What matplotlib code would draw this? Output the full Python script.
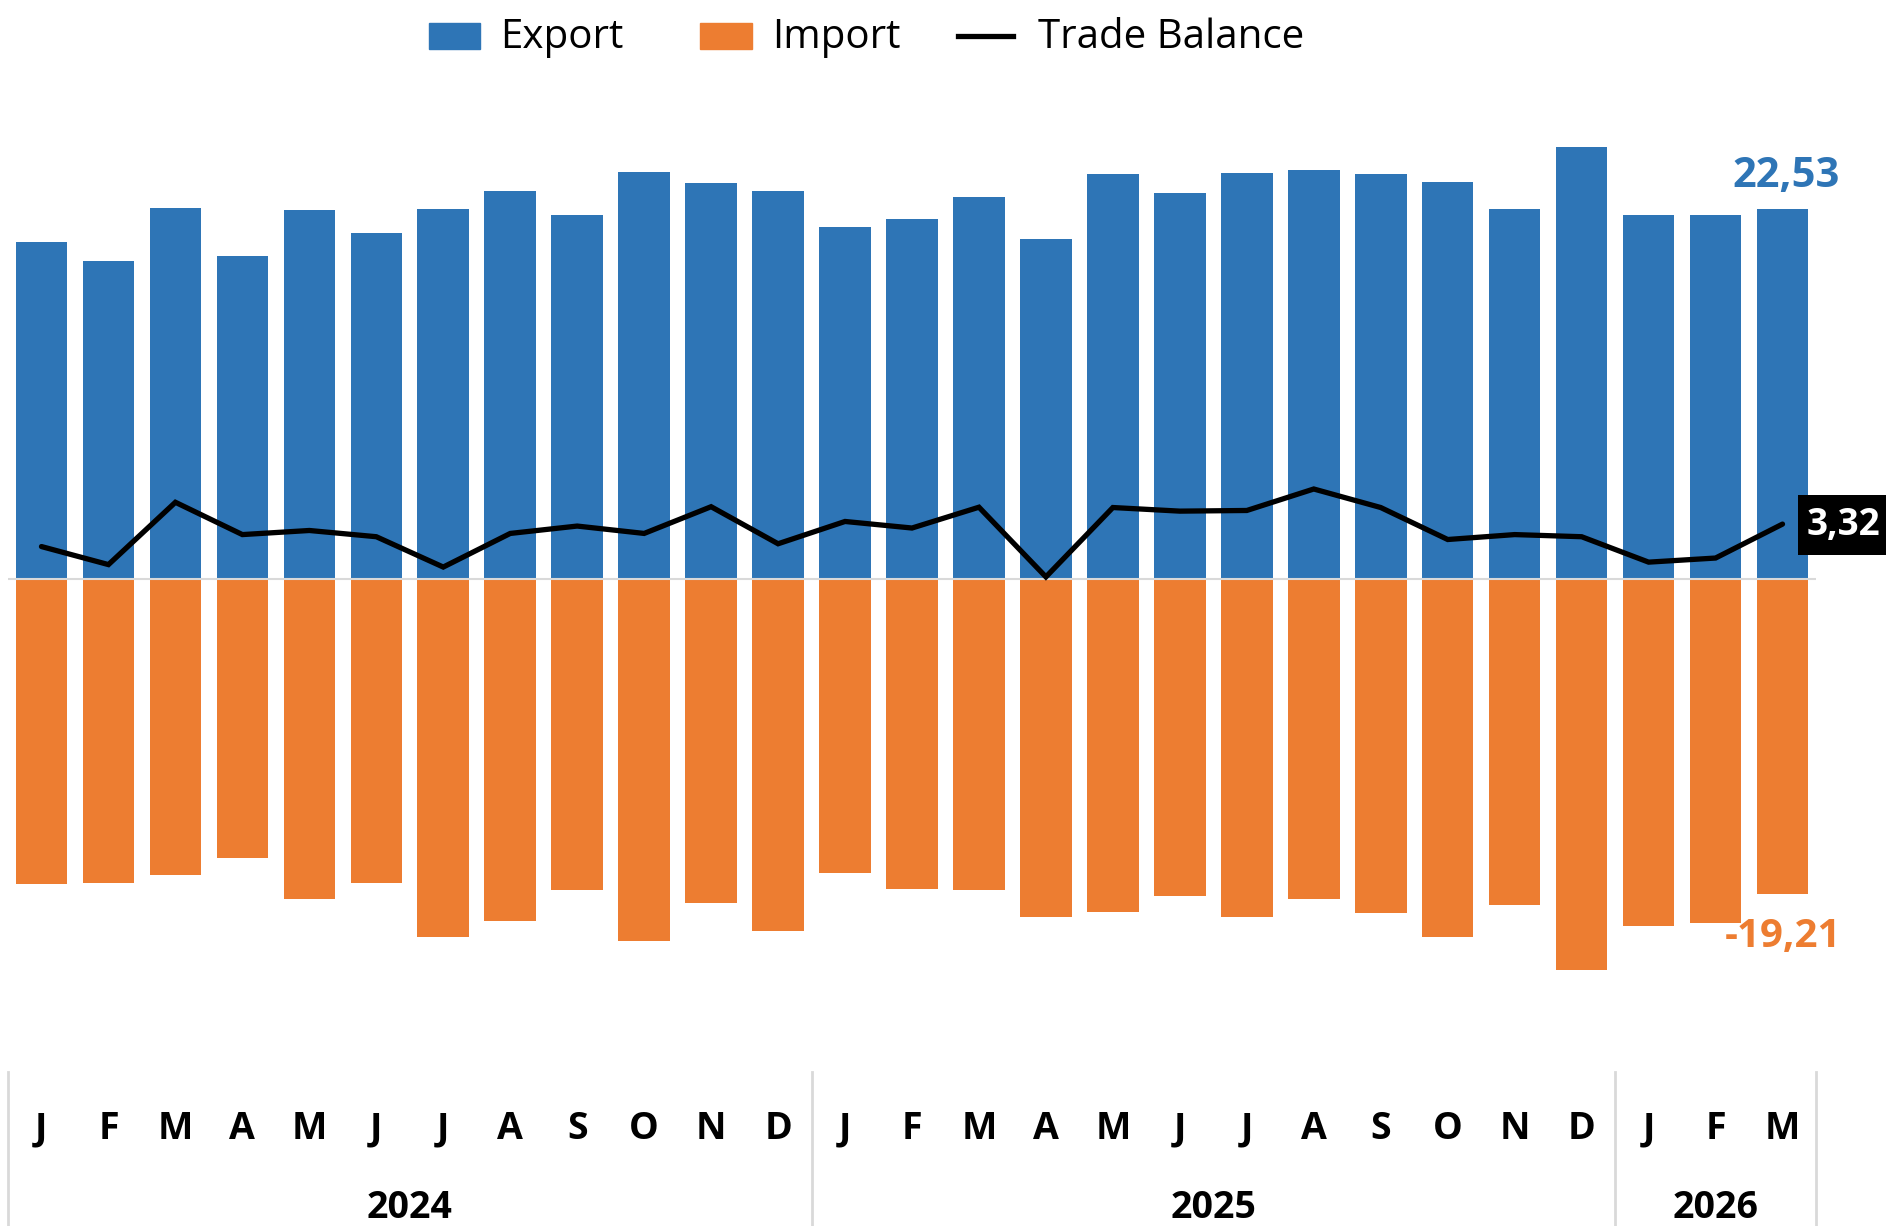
import matplotlib
matplotlib.use("Agg")
import matplotlib.pyplot as plt
from matplotlib.transforms import blended_transform_factory, Affine2D, ScaledTranslation
from matplotlib.patches import Rectangle
from matplotlib.lines import Line2D

months = ["J", "F", "M", "A", "M", "J", "J", "A", "S", "O", "N", "D",
          "J", "F", "M", "A", "M", "J", "J", "A", "S", "O", "N", "D",
          "J", "F", "M"]
years = ["2024", "2025", "2026"]
year_counts = [12, 12, 3]

export = [20.54, 19.37, 22.60, 19.66, 22.45, 21.06, 22.52, 23.62, 22.16, 24.80, 24.14, 23.62,
          21.42, 21.94, 23.26, 20.69, 24.65, 23.48, 24.72, 24.94, 24.65, 24.21, 22.52, 26.34,
          22.16, 22.16, 22.53]
imports = [-18.64, -18.56, -18.05, -17.02, -19.52, -18.56, -21.86, -20.91, -19.00, -22.08, -19.81, -21.50,
           -17.97, -18.93, -19.00, -20.62, -20.32, -19.37, -20.62, -19.52, -20.40, -21.86, -19.88, -23.84,
           -21.20, -20.98, -19.21]
balance = [1.95, 0.85, 4.65, 2.68, 2.93, 2.55, 0.70, 2.75, 3.20, 2.75, 4.38, 2.12,
           3.48, 3.08, 4.35, 0.10, 4.33, 4.11, 4.15, 5.46, 4.33, 2.38, 2.68, 2.55,
           1.00, 1.25, 3.32]

BLUE = "#2E75B6"
ORANGE = "#ED7D31"
GRID = "#D9D9D9"
FONT = "Open Sans"

W, H = 1886, 1226
fig = plt.figure(figsize=(W / 100, H / 100), dpi=100)

ax_left, ax_right = 8, 1816
ax_top, ax_bot = 100, 1072
ax = fig.add_axes([ax_left / W, 1 - ax_bot / H, (ax_right - ax_left) / W, (ax_bot - ax_top) / H])
ax.set_xlim(-0.5, len(months) - 0.5)
ax.set_ylim(-30.09, 29.18)
ax.set_autoscale_on(False)
ax.axis("off")

x = list(range(len(months)))
ax.bar(x, export, width=0.77, color=BLUE, zorder=2)
ax.bar(x, imports, width=0.77, color=ORANGE, zorder=2)
ax.axhline(0, color=GRID, lw=1.5, zorder=3)
ax.plot(x, balance, color="black", lw=3.8, zorder=4, solid_capstyle="round", solid_joinstyle="miter")

# end labels
ax.annotate("22,53", (x[-1], export[-1]), xytext=(4, 33), textcoords="offset pixels",
            ha="center", va="center", color=BLUE, fontsize=30, fontweight="bold", family=FONT)
ax.annotate("-19,21", (x[-1], imports[-1]), xytext=(0, -43), textcoords="offset pixels",
            ha="center", va="center", color=ORANGE, fontsize=29, fontweight="bold", family=FONT)

# black label box for last trade balance value (pixel offsets from the last point)
anchor = Affine2D() + ScaledTranslation(x[-1], balance[-1], ax.transData)
box = Rectangle((15, -31), 110, 60, transform=anchor, facecolor="black", edgecolor="none",
                zorder=5, clip_on=False)
ax.add_patch(box)
ax.annotate("3,32", (x[-1], balance[-1]), xytext=(24, -1), textcoords="offset pixels",
            ha="left", va="center", color="white", fontsize=26.5, fontweight="bold", family=FONT,
            zorder=6, annotation_clip=False)

# category axis
bt = blended_transform_factory(ax.transData, fig.transFigure)
for i, m in enumerate(months):
    fig.text(i, 1 - 1129 / H, m, transform=bt, ha="center", va="center",
             fontsize=27, fontweight="bold", family=FONT)
start = 0
seps = [-0.5]
for yl, n in zip(years, year_counts):
    fig.text(start + (n - 1) / 2, 1 - 1208 / H, yl, transform=bt, ha="center", va="center",
             fontsize=27, fontweight="bold", family=FONT)
    start += n
    seps.append(start - 0.5)
for s in seps:
    fig.add_artist(Line2D([s, s], [0, 1 - 1072 / H], transform=bt, color=GRID, lw=2))

# legend (manual)
def px(xp, yp):
    return xp / W, 1 - yp / H

ly = 36
for (x0, x1, col, label, tx) in [(429, 480, BLUE, "Export", 500), (700, 752, ORANGE, "Import", 772)]:
    fig.add_artist(Rectangle(px(x0, ly + 13), (x1 - x0) / W, 26 / H, transform=fig.transFigure,
                             color=col))
    fig.text(*px(tx, ly + 2), label, ha="left", va="center", fontsize=29, family=FONT)
fig.add_artist(Line2D([958 / W, 1013 / W], [1 - ly / H] * 2, transform=fig.transFigure,
                      color="black", lw=3.8))
fig.text(*px(1038, ly + 2), "Trade Balance", ha="left", va="center", fontsize=29, family=FONT)

fig.savefig("out.png", dpi=100)
